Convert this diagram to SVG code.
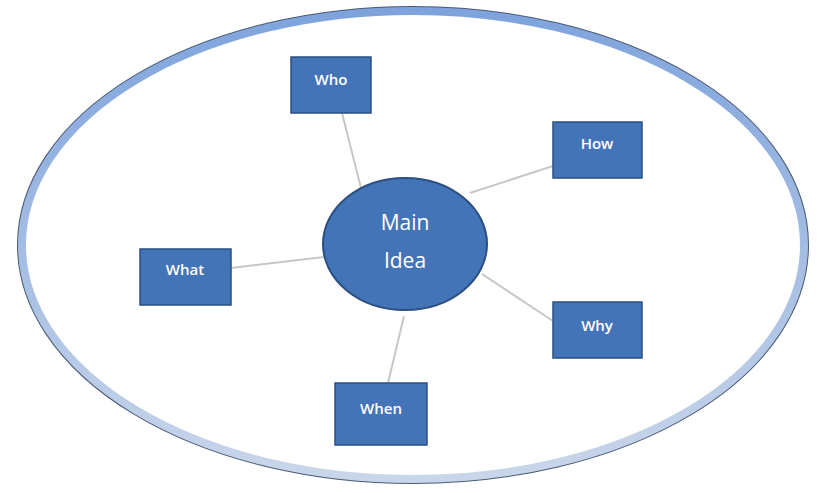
<svg xmlns="http://www.w3.org/2000/svg" width="817" height="493" viewBox="0 0 817 493">
<style>
.box{fill:#4474b8;stroke:#2b4f80;stroke-width:1.5}
.lbl{font-family:"Open Sans","Liberation Sans",sans-serif;font-size:15px;font-weight:600;fill:#ffffff;text-anchor:middle}
.big{font-family:"Open Sans","Liberation Sans",sans-serif;font-size:21px;fill:#ffffff;text-anchor:middle}
.con{stroke:#c4c8cc;stroke-width:2;fill:none}
</style>
<defs>
<linearGradient id="ring" x1="0" y1="0" x2="0" y2="1">
<stop offset="0" stop-color="#7ea3dc"/>
<stop offset="1" stop-color="#c9d6ea"/>
</linearGradient>
</defs>
<rect width="817" height="493" fill="#ffffff"/>
<g id="frame">
<ellipse cx="413" cy="245" rx="391" ry="234" fill="#ffffff" stroke="#4a5a74" stroke-width="10"/>
<ellipse cx="413" cy="245" rx="391" ry="234" fill="#ffffff" stroke="url(#ring)" stroke-width="8"/>
</g>
<g id="connectors">
<line class="con" x1="342" y1="113" x2="361" y2="188"/>
<line class="con" x1="553" y1="166" x2="470" y2="193"/>
<line class="con" x1="231" y1="268" x2="324" y2="257"/>
<line class="con" x1="553" y1="321" x2="482" y2="274"/>
<line class="con" x1="404" y1="316" x2="388" y2="383"/>
</g>
<g id="main">
<ellipse cx="405" cy="244" rx="82" ry="66" fill="#4474b8" stroke="#2b4f80" stroke-width="2"/>
<text class="big" x="405" y="230">Main</text>
<text class="big" x="405" y="268">Idea</text>
</g>
<g id="who">
<rect class="box" x="291" y="57" width="80" height="56"/>
<text class="lbl" x="331" y="85">Who</text>
</g>
<g id="how">
<rect class="box" x="553" y="122" width="89" height="56"/>
<text class="lbl" x="597" y="149">How</text>
</g>
<g id="what">
<rect class="box" x="140" y="249" width="91" height="56"/>
<text class="lbl" x="185" y="275">What</text>
</g>
<g id="why">
<rect class="box" x="553" y="302" width="89" height="56"/>
<text class="lbl" x="597" y="331">Why</text>
</g>
<g id="when">
<rect class="box" x="335" y="383" width="92" height="62"/>
<text class="lbl" x="381" y="414">When</text>
</g>
</svg>
